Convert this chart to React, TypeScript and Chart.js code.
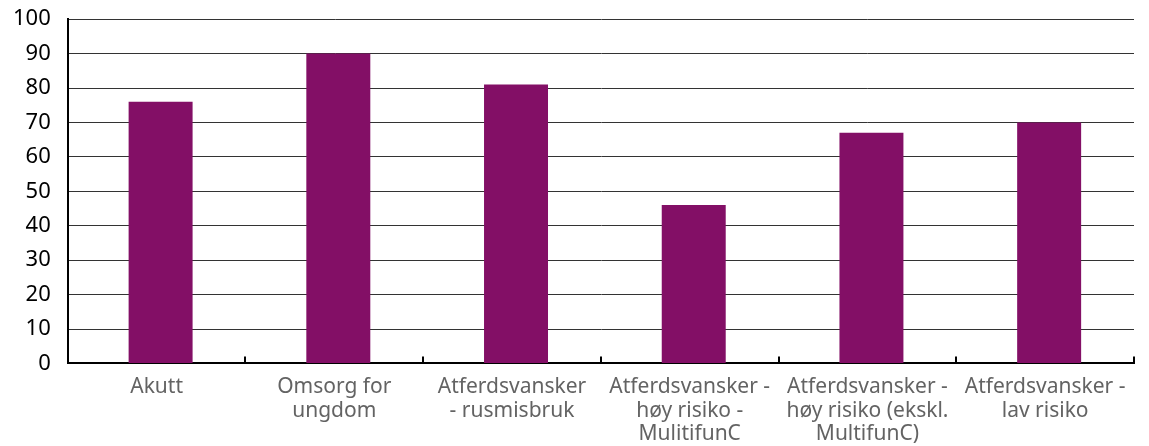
import React, { useEffect, useRef } from "react";
import { Chart, registerables } from "chart.js";

Chart.register(...registerables);

const categories: string[][] = [
  ["Akutt"],
  ["Omsorg for", "ungdom"],
  ["Atferdsvansker", "- rusmisbruk"],
  ["Atferdsvansker -", "høy risiko -", "MulitifunC"],
  ["Atferdsvansker -", "høy risiko (ekskl.", "MultifunC)"],
  ["Atferdsvansker -", "lav risiko"],
];
const values: number[] = [76, 90, 81, 46, 67, 70];
const yMin = 0;
const yMax = 100;
const yStep = 10;

const barNudge = {
  id: "barNudge",
  beforeDatasetsDraw(chart: any) {
    chart.ctx.save();
    chart.ctx.translate(4, 0);
  },
  afterDatasetsDraw(chart: any) {
    chart.ctx.restore();
  },
};

const innerTicks = {
  id: "innerTicks",
  afterDatasetsDraw(chart: any) {
    const xs = chart.scales.x;
    const ctx = chart.ctx;
    const bottom = chart.chartArea.bottom;
    ctx.save();
    ctx.strokeStyle = "#000";
    ctx.lineWidth = 2;
    for (let i = 1; i <= categories.length; i++) {
      const px = Math.round(xs.getPixelForValue(i - 0.5));
      ctx.beginPath();
      ctx.moveTo(px, bottom);
      ctx.lineTo(px, bottom - 7);
      ctx.stroke();
    }
    ctx.restore();
  },
};

const SHIFT = 11;
const EXTRA = 15;

export default function App() {
  const ref = useRef<HTMLCanvasElement>(null);
  useEffect(() => {
    document.body.style.margin = "0";
    const chart = new Chart(ref.current!, {
      type: "bar",
      data: {
        labels: categories,
        datasets: [
          {
            data: values,
            backgroundColor: "#830F66",
            barPercentage: 0.36,
            categoryPercentage: 1,
          },
        ],
      },
      options: {
        animation: false,
        responsive: false,
        maintainAspectRatio: false,
        layout: { padding: { top: 0, right: 15, left: -4, bottom: -8 } },
        plugins: { legend: { display: false }, tooltip: { enabled: false } },
        scales: {
          x: {
            offset: true,
            grid: { display: false, drawTicks: false },
            border: { display: true, color: "#000", width: 2 },
            ticks: {
              color: "#636363",
              font: { family: "Noto Sans", size: 21, lineHeight: 1.12 },
              padding: 12,
              maxRotation: 0,
              autoSkip: false,
            },
          },
          y: {
            min: yMin,
            max: yMax,
            grid: { color: "#333", lineWidth: 1, drawTicks: false },
            border: { display: true, color: "#000", width: 2 },
            ticks: {
              stepSize: yStep,
              color: "#000",
              font: { family: "Noto Sans", size: 22 },
              padding: 17,
            },
          },
        },
      },
      plugins: [barNudge, innerTicks],
    });
    return () => chart.destroy();
  }, []);
  return (
    <div style={{ width: 1149, height: 446, overflow: "hidden" }}>
      <canvas
        ref={ref}
        width={1149}
        height={446 + EXTRA}
        style={{ display: "block", marginTop: -SHIFT }}
      />
    </div>
  );
}
